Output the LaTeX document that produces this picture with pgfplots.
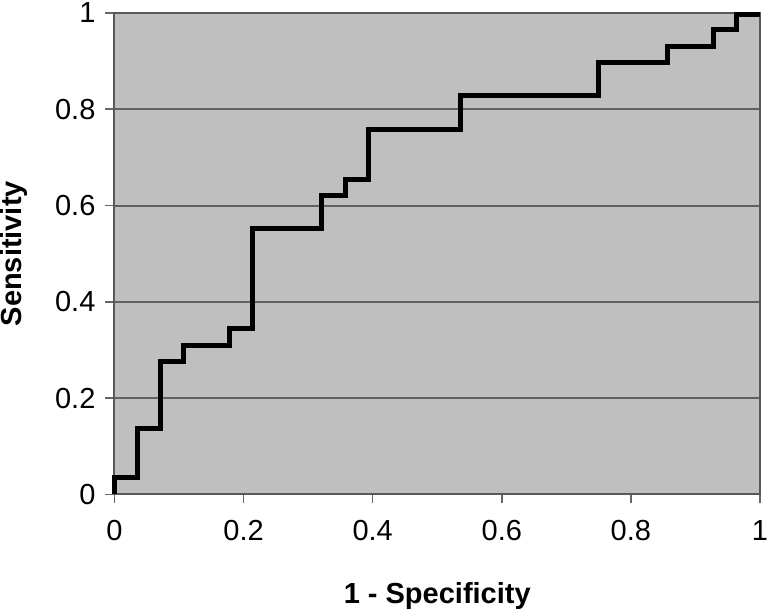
\documentclass[border=0pt]{standalone}
\usepackage{fontspec}
\setmainfont{Liberation Sans}
\usepackage{pgfplots}
\pgfplotsset{compat=1.18}
\begin{document}
\begin{tikzpicture}
\begin{axis}[
  scale only axis, width=322.75pt, height=240.75pt,
  xmin=0, xmax=1, ymin=0, ymax=1,
  xtick={0,0.2,0.4,0.6,0.8,1}, ytick={0,0.2,0.4,0.6,0.8,1},
  xtick pos=bottom, ytick pos=left,
  ymajorgrids,
  grid style={color=black!62, line width=1pt},
  axis background/.style={fill=black!25},
  axis line style={color=black!65, line width=1pt},
  tick align=outside, major tick length=4.5pt,
  tick style={color=black!60, line width=0.8pt},
  font=\fontsize{14.5}{17}\selectfont,
  ticklabel style={font=\fontsize{14.5}{17}\selectfont},
  xticklabel style={yshift=-5pt},
  yticklabel style={xshift=-1.5pt},
  /pgf/number format/assume math mode=true,
  xlabel={\textbf{1 - Specificity}}, ylabel={\textbf{Sensitivity}},
  xlabel style={at={(axis description cs:0.5,-0.2118)}, anchor=center},
  ylabel style={at={(axis description cs:-0.155,0.5)}, anchor=center},
  clip=false,
]
\addplot[black, line width=2.5pt, line join=miter] coordinates {
(0,0.0015) (0,0.0345) (0.0357,0.0345) (0.0357,0.1379) (0.0714,0.1379) (0.0714,0.2759)
(0.1071,0.2759) (0.1071,0.3103) (0.1786,0.3103) (0.1786,0.3448) (0.2143,0.3448)
(0.2143,0.5517) (0.3214,0.5517) (0.3214,0.6207) (0.3571,0.6207) (0.3571,0.6552)
(0.3929,0.6552) (0.3929,0.7586) (0.5357,0.7586) (0.5357,0.8276) (0.75,0.8276)
(0.75,0.8966) (0.8571,0.8966) (0.8571,0.9310) (0.9286,0.9310) (0.9286,0.9655)
(0.9643,0.9655) (0.9643,0.997) (1,0.997)
};
\end{axis}
\pgfresetboundingbox
\path[use as bounding box] (current axis.south west) ++(-57.25pt,-59.25pt) rectangle ++(383.5pt,306.5pt);
\end{tikzpicture}
\end{document}
